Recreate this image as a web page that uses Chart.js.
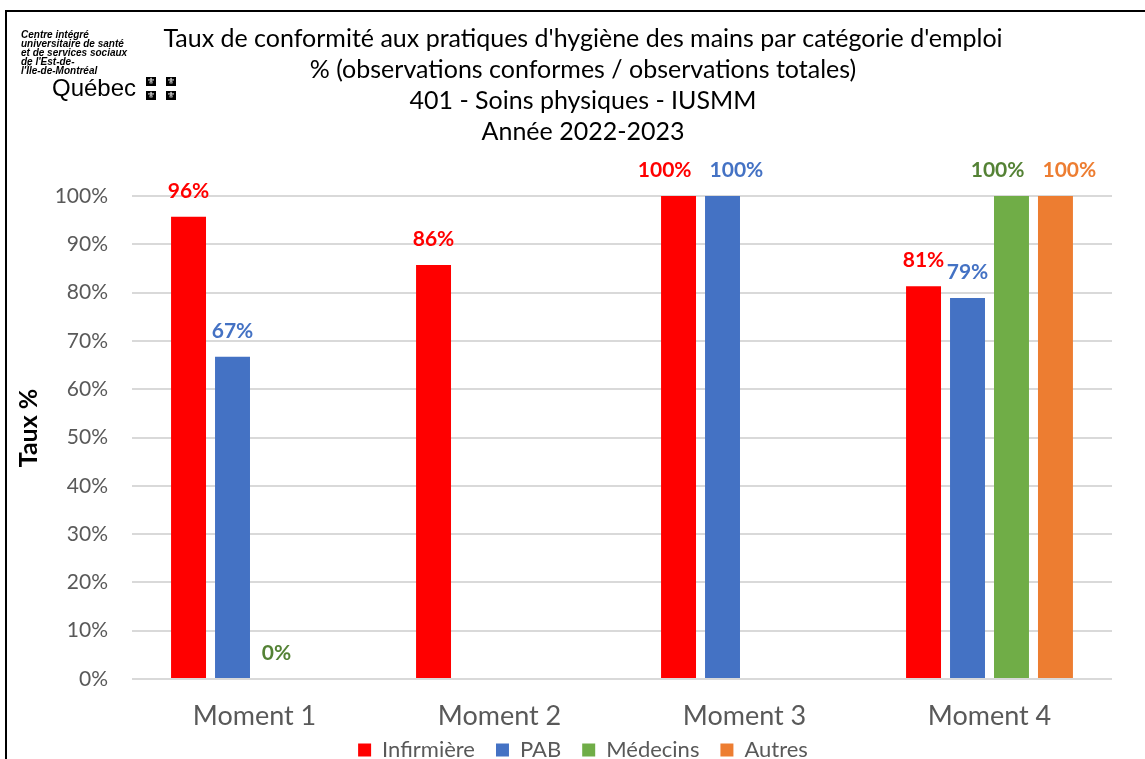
<!DOCTYPE html>
<html lang="fr">
<head>
<meta charset="utf-8">
<title>Taux de conformité aux pratiques d'hygiène des mains</title>
<script src="https://cdn.jsdelivr.net/npm/chart.js@4.4.1/dist/chart.umd.min.js"></script>
<style>
  html, body { margin: 0; padding: 0; background: #fff; overflow: hidden; }
  #wrap { position: relative; width: 1145px; height: 771px; }
  #frame { position: absolute; left: 5px; top: 10px; width: 1400px; height: 1000px;
           border-left: 2px solid #000; border-top: 2px solid #000; pointer-events: none; }
  #logo { position: absolute; left: 21px; top: 30px; font-family: 'Liberation Sans', Arial, sans-serif;
          font-size: 10px; line-height: 9px; font-weight: bold; font-style: italic; color: #000; }
  #quebec { position: absolute; left: 52px; top: 76px; font-family: 'Liberation Sans', Arial, sans-serif;
            font-size: 24px; line-height: 24px; color: #000; }
  .flag { position: absolute; width: 10px; height: 9px; background: #000; color: #fff;
          font-family: 'DejaVu Sans', sans-serif; font-size: 9px; line-height: 9px; text-align: center; overflow: hidden; }
</style>
</head>
<body>
<div id="wrap">
  <canvas id="tauxCanvas"></canvas>
  <div id="frame"></div>
  <div id="logo">Centre intégré<br>universitaire de santé<br>et de services sociaux<br>de l'Est-de-<br>l'Île-de-Montréal</div>
  <div id="quebec">Québec</div>
  <div class="flag" style="left:146px;top:77px">⚜</div>
  <div class="flag" style="left:166px;top:77px">⚜</div>
  <div class="flag" style="left:146px;top:91px">⚜</div>
  <div class="flag" style="left:166px;top:91px">⚜</div>
</div>
<script>
// chart data
var categories = ['Moment 1', 'Moment 2', 'Moment 3', 'Moment 4'];
var infirmiere = [95.7, 85.7, 100, 81.3];
var pab = [66.7, null, 100, 78.9];
var medecins = [0, null, null, 100];
var autres = [null, null, null, 100];
var yTicks = [0, 10, 20, 30, 40, 50, 60, 70, 80, 90, 100];
var titleLines = [
    "Taux de conformité aux pratiques d'hygiène des mains par catégorie d'emploi",
    "% (observations conformes / observations totales)",
    "401 - Soins physiques - IUSMM",
    "Année 2022-2023"
];
var yTitle = 'Taux %';

var FONT = "Lato, 'Open Sans', sans-serif";
Chart.defaults.font.family = FONT;

// value labels above the bars (pushed apart when they collide),
// category labels under the axis and the y axis title
var valueLabels = {
    id: 'valueLabels',
    afterDraw: function(chart) {
        var ctx = chart.ctx;
        ctx.save();
        ctx.font = 'bold 21px ' + FONT;
        ctx.textAlign = 'center';
        ctx.textBaseline = 'middle';
        var groups = {};
        chart.data.datasets.forEach(function(ds, di) {
            var meta = chart.getDatasetMeta(di);
            meta.data.forEach(function(bar, i) {
                var v = ds.data[i];
                if (v === null || v === undefined) return;
                var text = Math.round(v) + '%';
                if (!groups[i]) groups[i] = [];
                groups[i].push({ x: bar.x, y: bar.y - 26, w: ctx.measureText(text).width, text: text, color: ds.labelColor });
            });
        });
        Object.keys(groups).forEach(function(k) {
            var list = groups[k].sort(function(a, b) { return a.x - b.x; });
            for (var n = 1; n < list.length; n++) {
                var a = list[n - 1], b = list[n];
                if (Math.abs(a.y - b.y) > 20) continue;
                var overlap = (a.w + b.w) / 2 - (b.x - a.x);
                if (overlap > 0) {
                    var push = (overlap + 18) / 2;
                    a.x -= push;
                    b.x += push;
                }
            }
            list.forEach(function(l) {
                ctx.fillStyle = l.color;
                ctx.fillText(l.text, l.x, l.y);
            });
        });

        // category labels
        var xs = chart.scales.x;
        ctx.font = '27px ' + FONT;
        ctx.fillStyle = '#595959';
        chart.data.labels.forEach(function(lbl, i) {
            ctx.fillText(lbl, xs.getPixelForTick(i), chart.chartArea.bottom + 37);
        });

        // y axis title
        ctx.translate(29, 428);
        ctx.rotate(-Math.PI / 2);
        ctx.font = 'bold 25px ' + FONT;
        ctx.fillStyle = '#000';
        ctx.fillText(yTitle, 0, 0);
        ctx.restore();
    }
};

var canvas = document.getElementById('tauxCanvas');

var tauxChart = new Chart(canvas, {
    type: 'bar',
    data: {
        labels: categories,
        datasets: [
            { label: 'Infirmière', data: infirmiere, backgroundColor: '#FF0000', labelColor: '#FF0000' },
            { label: 'PAB', data: pab, backgroundColor: '#4472C4', labelColor: '#4472C4' },
            { label: 'Médecins', data: medecins, backgroundColor: '#70AD47', labelColor: '#548235' },
            { label: 'Autres', data: autres, backgroundColor: '#ED7D31', labelColor: '#ED7D31' }
        ]
    },
    options: {
        responsive: true,
        maintainAspectRatio: false,
        devicePixelRatio: 1,
        animation: false,
        categoryPercentage: 0.718,
        barPercentage: 0.795,
        layout: { padding: { top: 10, left: 54, right: 33, bottom: 0 } },
        plugins: {
            title: {
                display: true,
                text: titleLines,
                color: '#000',
                font: { size: 25, weight: 'normal', lineHeight: 1.24 },
                padding: { top: 13, bottom: 49 }
            },
            legend: {
                position: 'bottom',
                labels: {
                    boxWidth: 13,
                    boxHeight: 13,
                    padding: 21,
                    color: '#595959',
                    font: { size: 22 }
                }
            },
            tooltip: { enabled: false }
        },
        scales: {
            x: {
                grid: { display: false },
                border: { display: false },
                ticks: { display: false },
                afterFit: function(scale) { scale.height = 39; }
            },
            y: {
                min: 0,
                max: 100,
                afterBuildTicks: function(scale) {
                    scale.ticks = yTicks.map(function(v) { return { value: v }; });
                },
                ticks: {
                    color: '#595959',
                    font: { size: 21 },
                    padding: 24,
                    callback: function(v) { return v + '%'; }
                },
                grid: { color: '#d9d9d9', lineWidth: 2, drawTicks: false },
                border: { display: false },
                afterFit: function(scale) { scale.width = 78; }
            }
        }
    },
    plugins: [valueLabels]
});
</script>
</body>
</html>
